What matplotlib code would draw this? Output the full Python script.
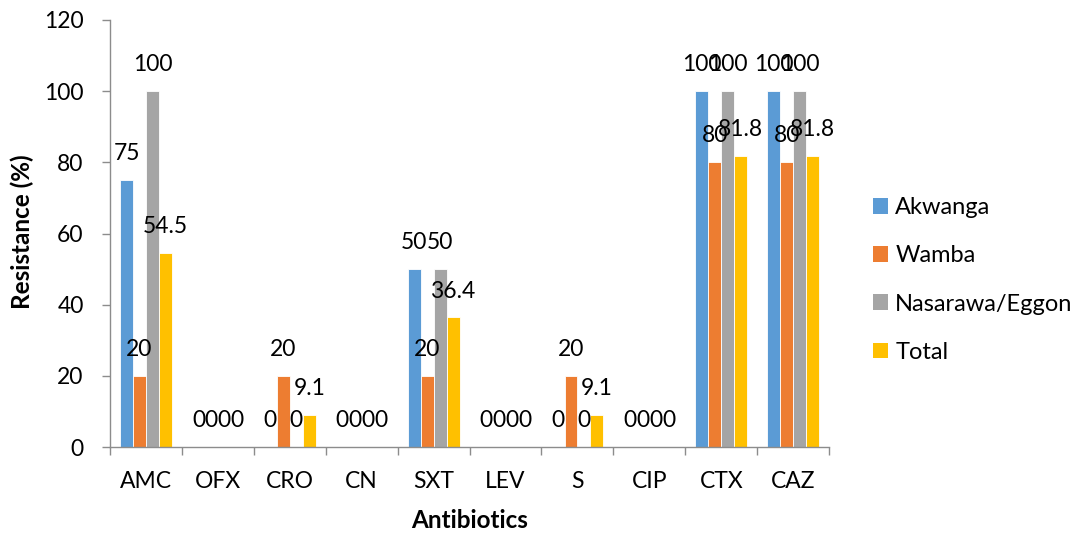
import matplotlib
matplotlib.use("Agg")
import matplotlib.pyplot as plt
import numpy as np

categories = ["AMC", "OFX", "CRO", "CN", "SXT", "LEV", "S", "CIP", "CTX", "CAZ"]
series_names = ["Akwanga", "Wamba", "Nasarawa/Eggon", "Total"]
akwanga = [75, 0, 0, 0, 50, 0, 0, 0, 100, 100]
wamba = [20, 0, 20, 0, 20, 0, 20, 0, 80, 80]
nasarawa_eggon = [100, 0, 0, 0, 50, 0, 0, 0, 100, 100]
total = [54.5, 0, 9.1, 0, 36.4, 0, 9.1, 0, 81.8, 81.8]
colors = ["#5B9BD5", "#ED7D31", "#A5A5A5", "#FFC000"]

plt.rcParams["font.family"] = ["Lato", "DejaVu Sans"]

fig = plt.figure(figsize=(10.81, 5.36), dpi=100)
ax = fig.add_axes([0.1018, 0.166, 0.6652, 0.7967])

x = np.arange(len(categories))
width = 0.18
all_series = [akwanga, wamba, nasarawa_eggon, total]
handles = []
for k, (name, vals, col) in enumerate(zip(series_names, all_series, colors)):
    pos = x + (k - 1.5) * width
    bars = ax.bar(pos, vals, width, color=col, edgecolor="white", linewidth=0.6, label=name)
    handles.append(bars)
    for px, v in zip(pos, vals):
        ax.annotate(f"{v:g}", (px, v), xytext=(0, 19), textcoords="offset points",
                    ha="center", va="center", fontsize=16.5, color="black")

ax.set_xlim(-0.5, len(categories) - 0.5)
ax.set_ylim(0, 120)
ax.set_yticks(np.arange(0, 121, 20))
ax.set_xticks(np.arange(-0.5, len(categories), 1), minor=False)
ax.set_xticklabels([])
ax.set_xticks(x, minor=True)
ax.set_xticklabels(categories, minor=True)

axis_col = "#8C8C8C"
for side in ["top", "right"]:
    ax.spines[side].set_visible(False)
for side in ["left", "bottom"]:
    ax.spines[side].set_color(axis_col)
    ax.spines[side].set_linewidth(1.0)
ax.tick_params(axis="y", which="major", length=6, width=1.0, color=axis_col,
               labelsize=16.5, pad=13)
ax.tick_params(axis="x", which="major", length=6, width=1.0, color=axis_col, direction="out")
ax.tick_params(axis="x", which="minor", length=0, labelsize=16.5, pad=17)

ax.set_ylabel("Resistance (%)", fontsize=17.5, fontweight="bold", va="center", ha="center")
ax.set_xlabel("Antibiotics", fontsize=17.5, fontweight="bold", va="center", ha="center")
ax.yaxis.set_label_coords(22 / 1081, 1 - 232 / 536, transform=fig.transFigure)
ax.xaxis.set_label_coords(470 / 1081, 1 - 521 / 536, transform=fig.transFigure)

leg = fig.legend(handles=handles, labels=series_names, loc="center left",
                 bbox_to_anchor=(873 / 1081, 1 - 280 / 536), frameon=False, fontsize=17,
                 handlelength=0.64, handleheight=0.64, handletextpad=0.3,
                 labelspacing=1.15, borderpad=0, borderaxespad=0)
for h in leg.legend_handles:
    h.set_edgecolor("none")

fig.savefig("out.png", dpi=100)
